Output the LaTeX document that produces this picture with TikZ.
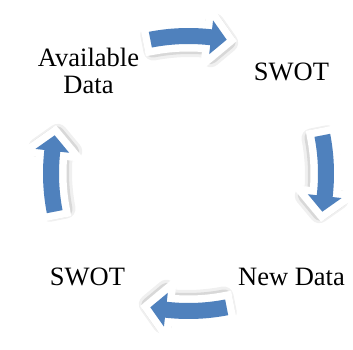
\documentclass[tikz,border=0pt]{standalone}
\usepackage{fontspec}
\setmainfont{Liberation Serif}
\definecolor{arrowblue}{HTML}{4F81BD}
\tikzset{
  lbl/.style={inner sep=0pt, font=\fontsize{26.5}{26.5}\selectfont, align=center, anchor=base},
  arrowrim/.style={fill=white, draw=white, line width=15pt, line join=miter},
  arrowfill/.style={fill=arrowblue},
  arrowshadowA/.style={fill=black, draw=black, line width=20pt, line join=round, opacity=0.06},
  arrowshadowB/.style={fill=black, draw=black, line width=16pt, line join=round, opacity=0.10},
}
% generic curved arrow: arc centre at origin, radius 200, tail at 101 deg, tip at 79 deg
\newcommand\arrowpath{(101:208) arc[start angle=101, end angle=83.5, radius=208] -- (83.5:217) -- (79:200) -- (83.5:183) -- (83.5:192) arc[start angle=83.5, end angle=101, radius=192] -- cycle}
\newcommand\cyclearrow[1]{%
  \begin{scope}[shift={(cc)}, rotate=#1]
    \begin{scope}[shift={(0,-62.5)}]
      \path[arrowshadowA, shift={(1.5,-3)}] \arrowpath;
      \path[arrowshadowB, shift={(1,-2)}] \arrowpath;
      \path[arrowrim] \arrowpath;
      \path[arrowfill] \arrowpath;
    \end{scope}
  \end{scope}}
\begin{document}
\begin{tikzpicture}[x=1pt, y=1pt]
  \useasboundingbox (0,0) rectangle (353,349);
  \coordinate (cc) at (188.5,175.5);
  \cyclearrow{0}
  \cyclearrow{-90}
  \cyclearrow{-180}
  \cyclearrow{90}
  \node[lbl] (avail) at (88.5,256) {Available\\Data};
  \node[lbl] (swot1) at (291.5,269) {SWOT};
  \node[lbl] (newdata) at (291.5,64) {New Data};
  \node[lbl] (swot2) at (87.5,64) {SWOT};
\end{tikzpicture}
\end{document}
